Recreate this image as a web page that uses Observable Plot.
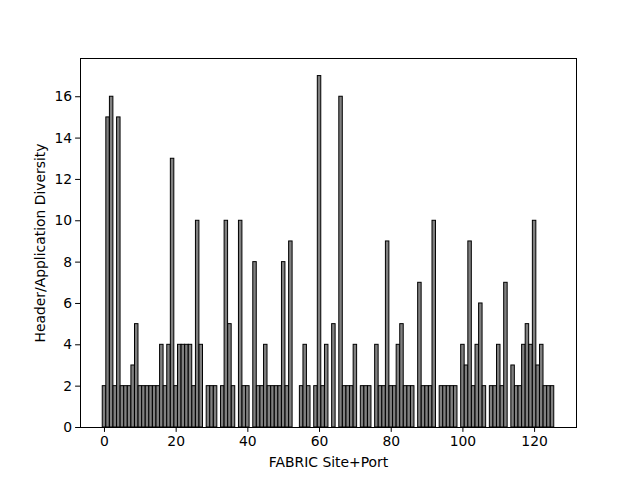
<!DOCTYPE html>
<html>
<head>
<meta charset="utf-8">
<script src="https://cdn.jsdelivr.net/npm/d3@7"></script>
<script src="https://cdn.jsdelivr.net/npm/@observablehq/plot@0.6"></script>
<style>
  html, body { margin: 0; padding: 0; background: #fff; }
  svg { display: block; }
</style>
</head>
<body>
<div id="chart"></div>
<script>
// Site+Port index 0..125 and diversity values (0 = no bar)
const diversity = [
  2, 15, 16, 2, 15, 2, 2, 2, 3, 5,
  2, 2, 2, 2, 2, 2, 4, 2, 4, 13,
  2, 4, 4, 4, 4, 2, 10, 4, 0, 2,
  2, 2, 0, 2, 10, 5, 2, 0, 10, 2,
  2, 0, 8, 2, 2, 4, 2, 2, 2, 2,
  8, 2, 9, 0, 0, 2, 4, 2, 0, 2,
  17, 2, 4, 0, 5, 0, 16, 2, 2, 2,
  4, 0, 2, 2, 2, 0, 4, 2, 2, 9,
  2, 2, 4, 5, 2, 2, 2, 0, 7, 2,
  2, 2, 10, 0, 2, 2, 2, 2, 2, 0,
  4, 3, 9, 2, 4, 6, 2, 0, 2, 2,
  4, 2, 7, 0, 3, 2, 2, 4, 5, 4,
  10, 3, 4, 2, 2, 2
];
const sitePort = diversity.map((_, i) => i);
const xTicks = [0, 20, 40, 60, 80, 100, 120];
const yTicks = [0, 2, 4, 6, 8, 10, 12, 14, 16];
const xLabel = "FABRIC Site+Port";
const yLabel = "Header/Application Diversity";

const rows = sitePort.map((s, i) => ({ s, v: diversity[i] })).filter(d => d.v > 0);

const barW = 0.8;
const xMin = -barW / 2, xMax = sitePort.length - 1 + barW / 2;
const xPad = (xMax - xMin) * 0.05;
const x0 = xMin - xPad, x1 = xMax + xPad;
const yMax = d3.max(diversity) * 1.05;

const W = 640, H = 480, mL = 80, mR = 64, mT = 58, mB = 53;
const pxPerUnit = (W - mL - mR) / (x1 - x0);
const yLabelX = x0 - 40 / pxPerUnit;

const font = "DejaVu Sans, sans-serif";
const fs = 13.9;

const chart = Plot.plot({
  width: W,
  height: H,
  marginLeft: mL,
  marginRight: mR,
  marginTop: mT,
  marginBottom: mB,
  style: { fontFamily: font, fontSize: fs + "px", color: "black", background: "white" },
  x: { domain: [x0, x1] },
  y: { domain: [0, yMax] },
  marks: [
    Plot.rectY(rows, {
      x1: d => d.s - barW / 2,
      x2: d => d.s + barW / 2,
      y1: 0,
      y2: "v",
      insetLeft: -0.3,
      insetRight: -0.3,
      insetTop: 0,
      insetBottom: 0,
      fill: "#808080",
      stroke: "black",
      strokeWidth: 1
    }),
    Plot.frame({ stroke: "black", strokeWidth: 1 }),
    Plot.axisX({ ticks: xTicks, tickSize: 4.9, tickPadding: 3.5, tickFormat: d3.format("d"), label: null, fontSize: fs }),
    Plot.axisY({ ticks: yTicks, tickSize: 4.9, tickPadding: 3.5, tickFormat: d3.format("d"), label: null, fontSize: fs }),
    Plot.text([xLabel], { frameAnchor: "bottom", dy: 35, text: d => d, fontSize: fs, lineAnchor: "middle", fill: "black" }),
    Plot.text([yLabel], { x: yLabelX, y: yMax / 2, text: d => d, rotate: -90, fontSize: fs, lineAnchor: "middle", textAnchor: "middle", fill: "black", clip: false })
  ]
});
document.getElementById("chart").appendChild(chart);
</script>
</body>
</html>
